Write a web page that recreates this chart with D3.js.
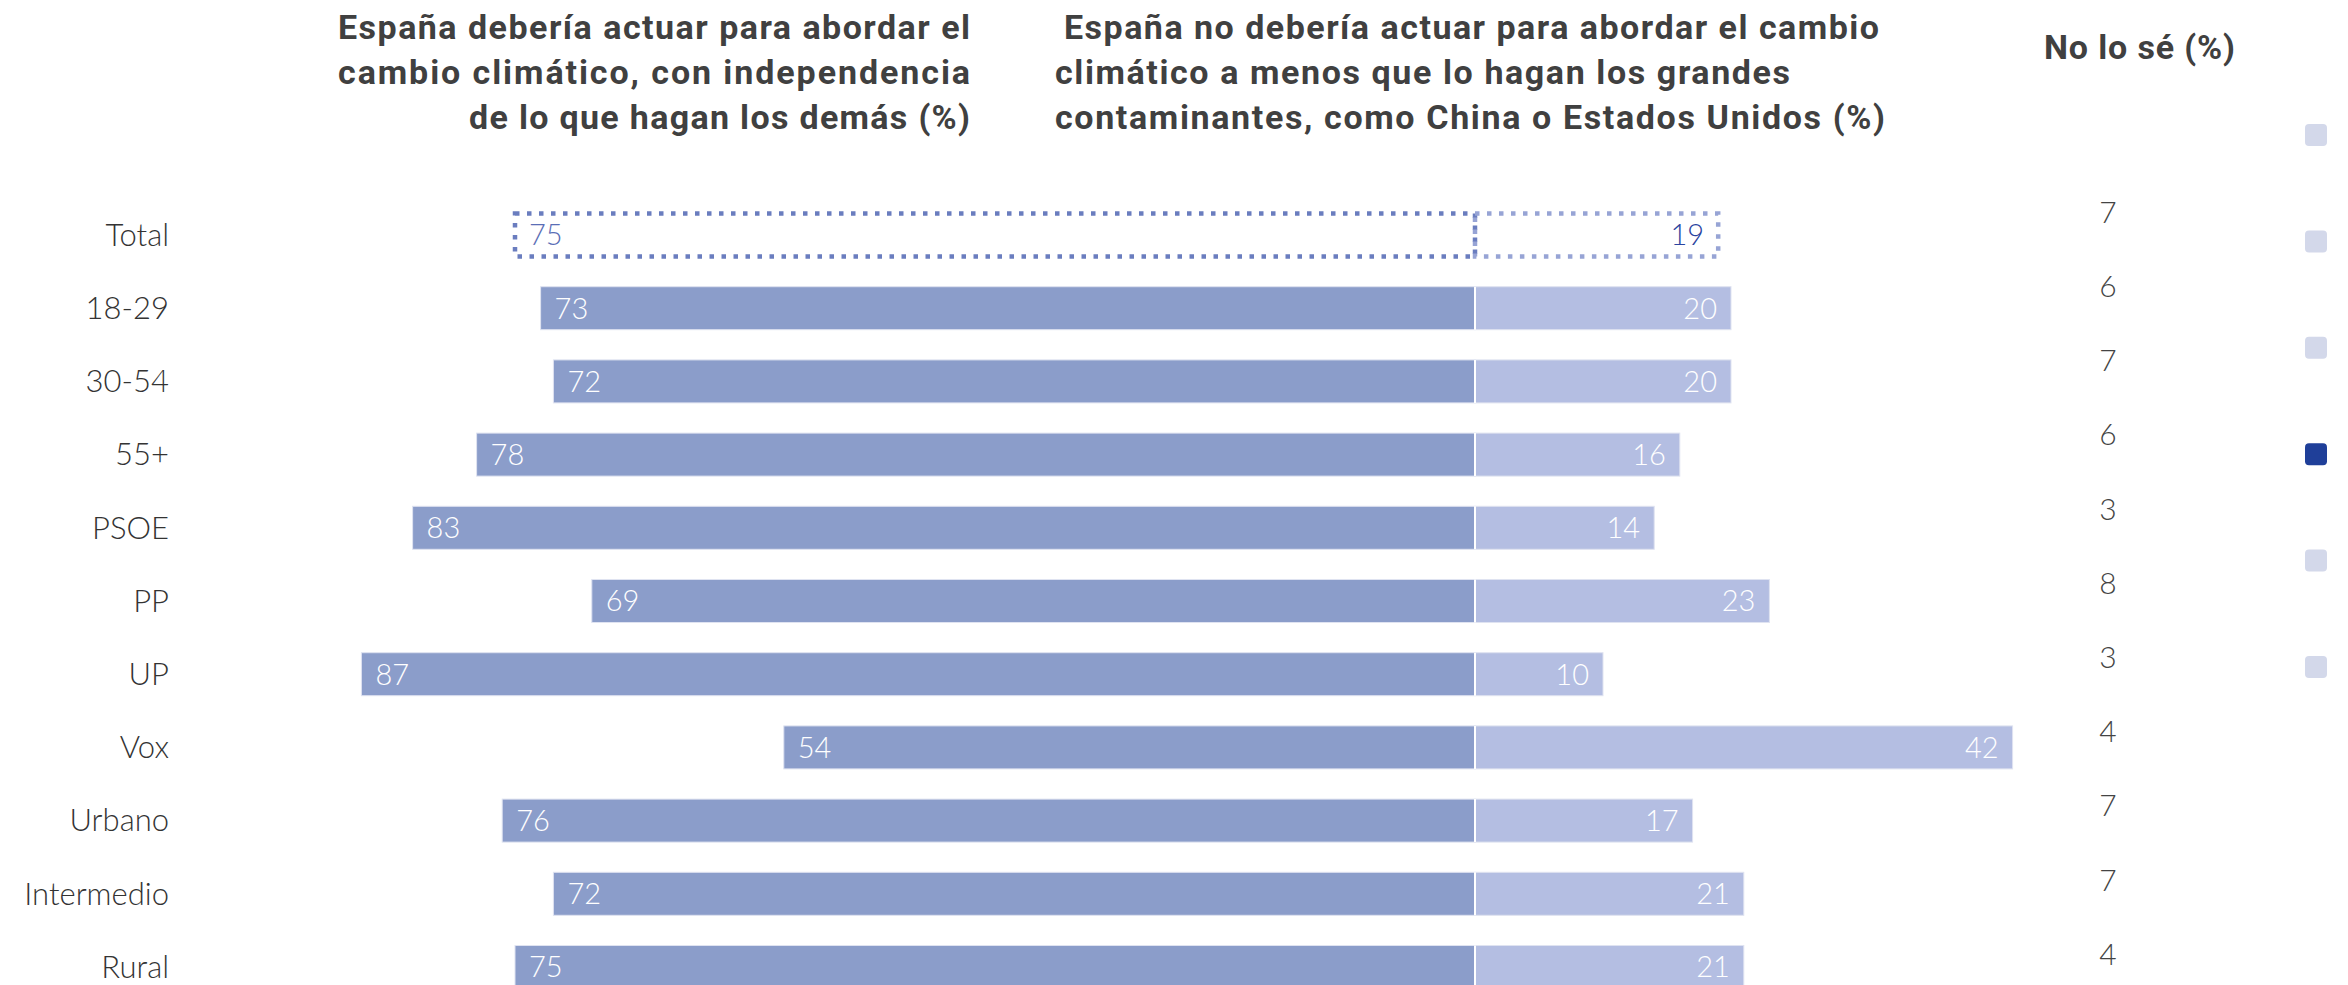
<!DOCTYPE html>
<html lang="es">
<head>
<meta charset="utf-8">
<script src="https://cdn.jsdelivr.net/npm/d3@7/dist/d3.min.js"></script>
<style>
  html, body { margin: 0; padding: 0; background: #ffffff; }
  svg { display: block; }
  .title { font-family: Roboto, "Open Sans", sans-serif; font-weight: 700; fill: #404040; }
  .cat { font-family: Lato, "Open Sans", sans-serif; font-weight: 300; fill: #333333; }
  .val { font-family: Lato, "Open Sans", sans-serif; font-weight: 300; }
</style>
</head>
<body>
<svg id="chart" width="2348" height="985"></svg>
<script>
// Survey groups, one row each
const categories = ["Total", "18-29", "30-54", "55+", "PSOE", "PP", "UP", "Vox", "Urbano", "Intermedio", "Rural"];
// "España debería actuar ... con independencia de lo que hagan los demás (%)"
const actuar = [75, 73, 72, 78, 83, 69, 87, 54, 76, 72, 75];
// "España no debería actuar ... a menos que lo hagan los grandes contaminantes (%)"
const noActuar = [19, 20, 20, 16, 14, 23, 10, 42, 17, 21, 21];
// "No lo sé (%)"
const noSe = [7, 6, 7, 6, 3, 8, 3, 4, 7, 7, 4];
// Page indicator squares (1 = current)
const pager = [0, 0, 0, 1, 0, 0];

const titleLeft = ["España debería actuar para abordar el", "cambio climático, con independencia", "de lo que hagan los demás (%)"];
const titleRight = ["España no debería actuar para abordar el cambio", "climático a menos que lo hagan los grandes", "contaminantes, como China o Estados Unidos (%)"];
const titleNoSe = "No lo sé (%)";

const svg = d3.select("#chart");

const axisX = 1475;          // shared baseline between the two bar series
const barH = 43;
const colLeft = "#8b9dca";
const colRight = "#b4bee2";

const x = d3.scaleLinear().domain([0, 100]).range([0, 1280]);
const y = d3.scalePoint().domain(categories).range([235, 967]);
const yNoSe = d3.scalePoint().domain(categories).range([212, 954]);
const yPager = d3.scalePoint().domain(d3.range(pager.length)).range([135, 667]);

const rows = categories.map((c, i) => ({ cat: c, a: actuar[i], n: noActuar[i], s: noSe[i], total: i === 0 }));

// Column headings, one text element per line so each can be fitted to its column
const headLeftW = [632, 632, 501];
const headRightX = [1064, 1055, 1055];
const headRightW = [815, 735, 830];
svg.append("g").selectAll("text").data(titleLeft).join("text")
  .attr("class", "title").attr("text-anchor", "end")
  .attr("x", 970).attr("y", (d, i) => 39 + i * 45)
  .style("font-size", "34px")
  .attr("textLength", (d, i) => headLeftW[i])
  .text(d => d);
svg.append("g").selectAll("text").data(titleRight).join("text")
  .attr("class", "title").attr("text-anchor", "start")
  .attr("x", (d, i) => headRightX[i]).attr("y", (d, i) => 39 + i * 45)
  .style("font-size", "34px")
  .attr("textLength", (d, i) => headRightW[i])
  .text(d => d);
svg.append("text").attr("class", "title").attr("x", 2044).attr("y", 59)
  .style("font-size", "34px").attr("textLength", 191).text(titleNoSe);

// Category labels
svg.append("g").selectAll("text").data(rows).join("text")
  .attr("class", "cat")
  .attr("x", 169).attr("y", d => y(d.cat)).attr("dy", "0.35em")
  .attr("text-anchor", "end").style("font-size", "31px")
  .text(d => d.cat);

// Regular bars
const barRows = rows.filter(d => !d.total);
const g = svg.append("g");
g.selectAll("rect.left").data(barRows).join("rect")
  .attr("class", "left")
  .attr("x", d => axisX - x(d.a)).attr("y", d => y(d.cat) - barH / 2)
  .attr("width", d => x(d.a)).attr("height", barH)
  .attr("fill", colLeft).attr("stroke", "#dfe3f1").attr("stroke-width", 1);
g.selectAll("rect.right").data(barRows).join("rect")
  .attr("class", "right")
  .attr("x", axisX).attr("y", d => y(d.cat) - barH / 2)
  .attr("width", d => x(d.n)).attr("height", barH)
  .attr("fill", colRight).attr("stroke", "#dfe3f1").attr("stroke-width", 1);
g.selectAll("line.sep").data(barRows).join("line")
  .attr("class", "sep")
  .attr("x1", axisX).attr("x2", axisX)
  .attr("y1", d => y(d.cat) - barH / 2).attr("y2", d => y(d.cat) + barH / 2)
  .attr("stroke", "#ffffff").attr("stroke-width", 2);

// Total row: dotted outlines instead of fills
const tot = rows[0];
const dash = "4.5,7.5";
g.append("rect")
  .attr("x", axisX - x(tot.a)).attr("y", y(tot.cat) - barH / 2)
  .attr("width", x(tot.a)).attr("height", barH)
  .attr("fill", "none").attr("stroke", "#6a7dbf").attr("stroke-width", 4.5).attr("stroke-dasharray", dash);
g.append("rect")
  .attr("x", axisX).attr("y", y(tot.cat) - barH / 2)
  .attr("width", x(tot.n)).attr("height", barH)
  .attr("fill", "none").attr("stroke", "#97a4d5").attr("stroke-width", 4.5).attr("stroke-dasharray", dash);

// Value labels inside the bars
g.selectAll("text.vl").data(rows).join("text")
  .attr("class", "val vl")
  .attr("x", d => axisX - x(d.a) + 14).attr("y", d => y(d.cat)).attr("dy", "0.36em")
  .style("font-size", "29px")
  .attr("fill", d => d.total ? "#5a6eb6" : "#ffffff")
  .text(d => d.a);
g.selectAll("text.vr").data(rows).join("text")
  .attr("class", "val vr")
  .attr("x", d => axisX + x(d.n) - 14).attr("y", d => y(d.cat)).attr("dy", "0.36em")
  .attr("text-anchor", "end")
  .style("font-size", "29px")
  .attr("fill", d => d.total ? "#2a44a0" : "#ffffff")
  .text(d => d.n);

// "No lo sé" column
svg.append("g").selectAll("text").data(rows).join("text")
  .attr("class", "val")
  .attr("x", 2108).attr("y", d => yNoSe(d.cat)).attr("dy", "0.36em")
  .attr("text-anchor", "middle").style("font-size", "30px")
  .attr("fill", "#444444")
  .text(d => d.s);

// Page indicator
svg.append("g").selectAll("rect").data(pager).join("rect")
  .attr("x", 2305).attr("y", (d, i) => yPager(i) - 11)
  .attr("width", 22).attr("height", 22).attr("rx", 4)
  .attr("fill", d => d ? "#1f3f99" : "#d3d8ea");
</script>
</body>
</html>
